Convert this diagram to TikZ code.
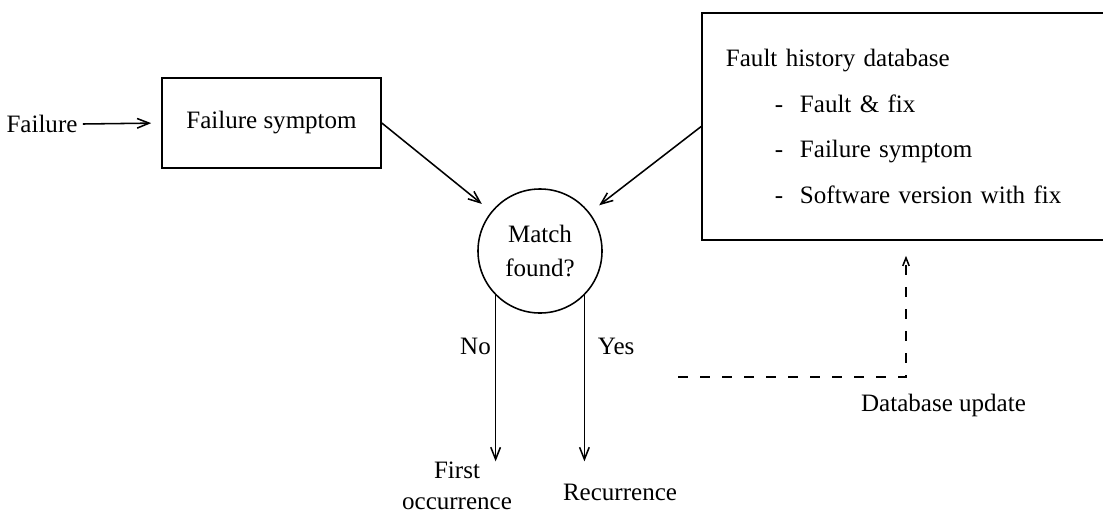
\documentclass[tikz,border=0pt]{standalone}
\usepackage{fontspec}
\setmainfont{Liberation Serif}
\usetikzlibrary{arrows.meta}

\begin{document}
\begin{tikzpicture}[
x=0.025cm, y=-0.025cm,
line width=1.1pt,
every node/.style={font=\fontsize{17.8}{22}\selectfont},
flowarrow/.style={-{Straight Barb[length=3mm, width=2.4mm]}},
updarrow/.style={dash pattern=on 2.5mm off 3mm, -{Straight Barb[length=2mm, width=1.6mm]}},
box/.style={
draw,
rectangle,
inner sep=0 pt,
}
]
\useasboundingbox (0,0) rectangle (1103,514);
\clip (0,0) rectangle (1103,514);

% boxes
\node (failure) at (42,124) {Failure};
\node [box, minimum width=5.475cm, minimum height=2.25cm] at (271.5,123) (symptom)
{Failure symptom};
\node [box, minimum width=10.2cm, minimum height=5.675cm, inner xsep=0.6cm,
text width=9cm, align=left, font=\fontsize{17.8}{32.5}\selectfont] at (906,126.5) (db)
{Fault history database\\
\hspace*{1.225cm}- \ Fault \& fix\\
\hspace*{1.225cm}- \ Failure symptom\\
\hspace*{1.225cm}- \ Software version with fix};
\node [draw, circle, minimum size=3.1cm, inner sep=0 pt, align=center,
font=\fontsize{17.8}{23.5}\selectfont] at (540,251) (match)
{Match\\found?};

% outcomes
\node [align=center, inner sep=0 pt] at (457,486) (first) {First\\occurrence};
\node [inner sep=0 pt] at (620,492) (recur) {Recurrence};
\node at (943.5,405) (update) {Database update};

\draw [flowarrow, shorten >=0.25cm] (failure.east) -- (symptom.west);
\draw [flowarrow, shorten >=0.3cm] (symptom.east) -- (match);
\draw [flowarrow, shorten >=0.3cm] (db.west) -- (match);

\draw [flowarrow] (match.south west) --
node [pos=0.31, left, inner sep=1mm] {No} (match.south west |- first.north);
\draw [flowarrow] (match.south east) --
node [pos=0.31, right, inner sep=3.2mm] {Yes} (match.south east |- first.north);

% database update
\coordinate (upd) at (678,377);
\draw [updarrow, shorten >=0.375cm] (upd) -| (db.south);

\end{tikzpicture}
\end{document}
